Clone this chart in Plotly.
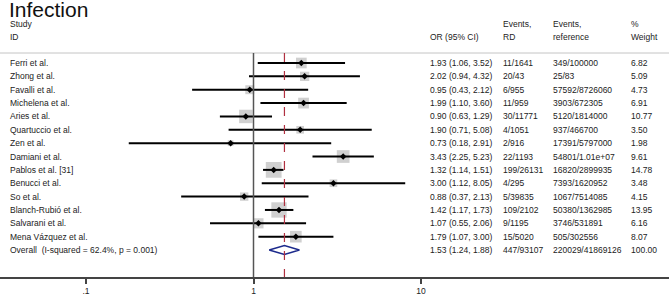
import plotly.graph_objects as go
import math

studies = ["Ferri et al.", "Zhong et al.", "Favalli et al.", "Michelena et al.", "Aries et al.",
           "Quartuccio et al.", "Zen et al.", "Damiani et al.", "Pablos et al. [31]", "Benucci et al.",
           "So et al.", "Blanch-Rubió et al.", "Salvarani et al.", "Mena Vázquez et al."]
or_vals = [1.93, 2.02, 0.95, 1.99, 0.90, 1.90, 0.73, 3.43, 1.32, 3.00, 0.88, 1.42, 1.07, 1.79]
ci_lo = [1.06, 0.94, 0.43, 1.10, 0.63, 0.71, 0.18, 2.25, 1.14, 1.12, 0.37, 1.17, 0.55, 1.07]
ci_hi = [3.52, 4.32, 2.12, 3.60, 1.29, 5.08, 2.91, 5.23, 1.51, 8.05, 2.13, 1.73, 2.06, 3.00]
events_rd = ["11/1641", "20/43", "6/955", "11/959", "30/11771", "4/1051", "2/916", "22/1193",
             "199/26131", "4/295", "5/39835", "109/2102", "9/1195", "15/5020"]
events_ref = ["349/100000", "25/83", "57592/8726060", "3903/672305", "5120/1814000", "937/466700",
              "17391/5797000", "54801/1.01e+07", "16820/2899935", "7393/1620952", "1067/7514085",
              "50380/1362985", "3746/531891", "505/302556"]
weights = [6.82, 5.09, 4.73, 6.91, 10.77, 3.50, 1.98, 9.61, 14.78, 3.48, 4.15, 13.95, 6.16, 8.07]

overall_label = "Overall  (I-squared = 62.4%, p = 0.001)"
overall_or, overall_lo, overall_hi = 1.53, 1.24, 1.88
overall_rd, overall_ref, overall_w = "447/93107", "220029/41869126", 100.00

tick_vals = [0.1, 1, 10]
tick_text = [".1", "1", "10"]

W, H = 669, 297
ROW_PX = 13.36
FIRST_PX = 63.0
BOTTOM_PX = 277.0

def row_of(px):
    return (px - FIRST_PX) / ROW_PX

rows = list(range(len(studies)))
overall_row = len(studies)

fig = go.Figure()

# weight boxes
fig.add_trace(go.Scatter(
    x=or_vals, y=rows, mode="markers",
    marker=dict(symbol="square", size=[4.1 * math.sqrt(w) for w in weights],
                color="#bcbcbc", line=dict(width=0)),
    hoverinfo="skip", showlegend=False))

# CI lines
xs, ys = [], []
for i, (a, b) in enumerate(zip(ci_lo, ci_hi)):
    xs += [a, b, None]
    ys += [i, i, None]
fig.add_trace(go.Scatter(x=xs, y=ys, mode="lines", line=dict(color="black", width=2),
                         hoverinfo="skip", showlegend=False))

# point estimates
fig.add_trace(go.Scatter(
    x=or_vals, y=rows, mode="markers",
    marker=dict(symbol="diamond", size=5, color="black"),
    hoverinfo="skip", showlegend=False))

# overall diamond
h = 0.34
fig.add_trace(go.Scatter(
    x=[overall_lo, overall_or, overall_hi, overall_or, overall_lo],
    y=[overall_row, overall_row - h, overall_row, overall_row + h, overall_row],
    mode="lines", fill="toself", fillcolor="white",
    line=dict(color="#1c2a8c", width=1.5), hoverinfo="skip", showlegend=False))

y_top = row_of(0)
y_bot = row_of(BOTTOM_PX)
y_hdr_line = row_of(53)

shapes = [
    dict(type="line", xref="paper", yref="y", x0=0, x1=1, y0=y_hdr_line, y1=y_hdr_line,
         line=dict(color="#c4c4c4", width=1)),
    dict(type="line", xref="x", yref="y", x0=1, x1=1, y0=y_hdr_line, y1=y_bot,
         line=dict(color="#555555", width=1.5)),
    dict(type="line", xref="x", yref="y", x0=overall_or, x1=overall_or, y0=y_hdr_line, y1=y_bot,
         line=dict(color="#b03040", width=1.2, dash="dash")),
]

FONT = "Liberation Sans, Arial, sans-serif"
FS = 8.5
TXT = "#222222"
annotations = []

def txt(xpx, row, s, size=FS):
    annotations.append(dict(x=xpx / W, xref="paper", y=row, yref="y", text=s, showarrow=False,
                            xanchor="left", yanchor="middle",
                            font=dict(family=FONT, size=size, color=TXT)))

col_or, col_rd, col_ref, col_w = 428, 501, 551, 629
for i in rows:
    txt(8, i, studies[i])
    txt(col_or, i, f"{or_vals[i]:.2f} ({ci_lo[i]:.2f}, {ci_hi[i]:.2f})")
    txt(col_rd, i, events_rd[i])
    txt(col_ref, i, events_ref[i])
    txt(col_w, i, f"{weights[i]:.2f}")
txt(8, overall_row, overall_label)
txt(col_or, overall_row, f"{overall_or:.2f} ({overall_lo:.2f}, {overall_hi:.2f})")
txt(col_rd, overall_row, overall_rd)
txt(col_ref, overall_row, overall_ref)
txt(col_w, overall_row, f"{overall_w:.2f}")

r1, r2 = row_of(24), row_of(37)
txt(8, r1, "Study")
txt(8, r2, "ID")
txt(col_or, r2, "OR (95% CI)")
txt(col_rd, r1, "Events,")
txt(col_rd, r2, "RD")
txt(col_ref, r1, "Events,")
txt(col_ref, r2, "reference")
txt(col_w, r1, "%")
txt(col_w, r2, "Weight")

annotations.append(dict(x=7 / W, xref="paper", y=row_of(9), yref="y", text="Infection",
                        showarrow=False, xanchor="left", yanchor="middle",
                        font=dict(family=FONT, size=21, color="#111111")))

px_per_dec = 167.5
x1_px = 253.5
xr = [-x1_px / px_per_dec, (W - x1_px) / px_per_dec]

fig.update_layout(
    width=W, height=H, margin=dict(l=0, r=0, t=0, b=int(H - BOTTOM_PX)),
    paper_bgcolor="white", plot_bgcolor="white",
    shapes=shapes, annotations=annotations, showlegend=False,
    xaxis=dict(type="log", range=xr, showgrid=False, zeroline=False,
               showline=True, linecolor="#444444", linewidth=1.5,
               ticks="outside", ticklen=5, tickcolor="#444444", tickwidth=1.5,
               tickvals=tick_vals, ticktext=tick_text,
               tickfont=dict(family=FONT, size=FS, color=TXT)),
    yaxis=dict(range=[y_bot, y_top], showgrid=False, zeroline=False, showticklabels=False,
               showline=False, ticks=""),
)

fig.write_html("out.html", config={"displayModeBar": False},
               post_script="document.body.style.margin='0';document.body.style.overflow='hidden';")
